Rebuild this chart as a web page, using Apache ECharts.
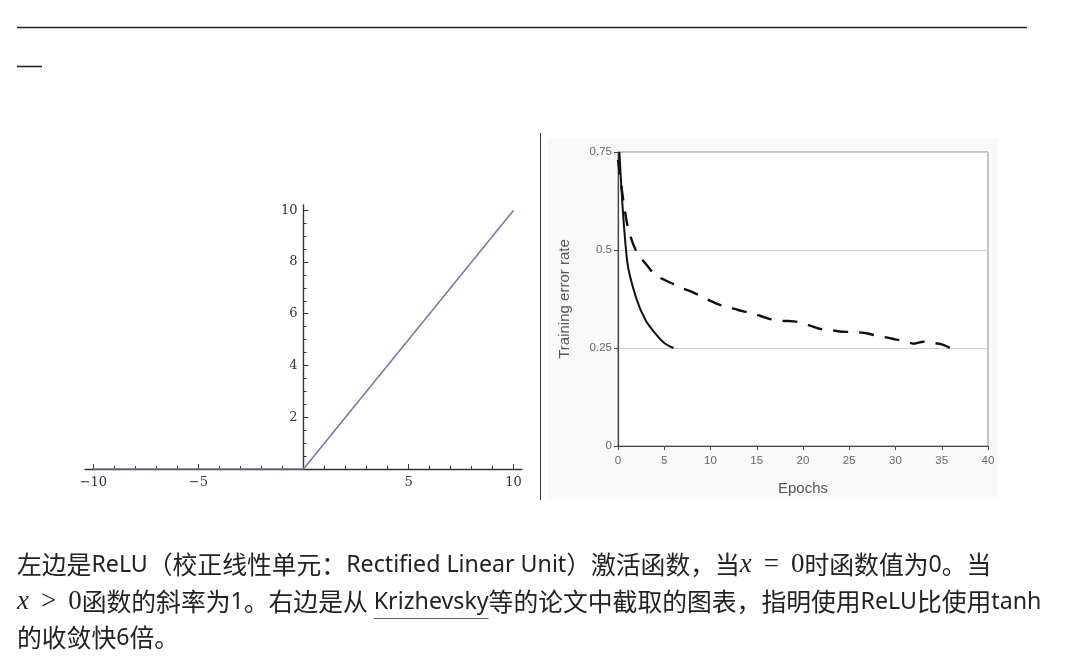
<!DOCTYPE html>
<html><head><meta charset="utf-8">
<script src="https://cdn.jsdelivr.net/npm/echarts@6/dist/echarts.min.js"></script>
<style>html,body{margin:0;padding:0;background:#fff}#c{width:1071px;height:667px}</style>
</head><body><div id="c"></div>
<script>
// ---- Left chart: ReLU ----
const reluX = [-10, 0, 10];
const reluY = [0, 0, 10];
const reluXMajor = [-10, -5, 5, 10];
const reluYMajor = [2, 4, 6, 8, 10];

// ---- Right chart: training error vs epochs ----
const epochsRelu = [0.15, 1, 2, 3, 4, 5, 6];
const errRelu = [0.75, 0.47, 0.375, 0.32, 0.288, 0.263, 0.25];
const epochsTanh = [0, 1, 2, 3, 4, 5, 6, 7, 8, 9, 10, 11, 12, 13, 14, 15, 16, 17, 18, 19, 20, 21, 22, 23, 24, 25, 26, 27, 28, 29, 30, 31, 32, 33, 34, 35, 36];
const errTanh = [0.73, 0.565, 0.495, 0.465, 0.437, 0.424, 0.413, 0.402, 0.393, 0.382, 0.37, 0.36, 0.354, 0.347, 0.341, 0.335, 0.327, 0.321, 0.319, 0.318, 0.313, 0.305, 0.298, 0.296, 0.292, 0.291, 0.29, 0.287, 0.281, 0.277, 0.272, 0.267, 0.261, 0.266, 0.263, 0.259, 0.249];

// ---- Paragraph text (segments: [text, kind]) ----
const line1 = [['左边是', 'c'], ['ReLU', 'l'], ['（校正线性单元：', 'c'], ['Rectified Linear Unit', 'l'], ['）激活函数，当', 'c'],
  ['x', 'mi'], ['=', 'mo'], ['0', 'mn'], ['时函数值为', 'c'], ['0', 'l'], ['。当', 'c']];
const line2 = [['x', 'mi'], ['>', 'mo'], ['0', 'mn'], ['函数的斜率为', 'c'], ['1', 'l'], ['。右边是从', 'c'], [' ', 'l'],
  ['Krizhevsky', 'u'], ['等的论文中截取的图表，指明使用', 'c'], ['ReLU', 'l'], ['比使用', 'c'], ['tanh', 'l']];
const line3 = [['的收敛快', 'c'], ['6', 'l'], ['倍。', 'c']];

const minorX = [];
for (let v = -10; v <= 10; v++) if (v !== 0) minorX.push(v);
const minorY = [];
for (let v = 0.5; v <= 10; v += 0.5) minorY.push(v);

const serif = 'DejaVu Serif';
const fonts = {
  c: { family: '"Noto Sans CJK SC"', size: 24.8, style: 'normal' },
  l: { family: '"Noto Sans"', size: 23.2, style: 'normal' },
  u: { family: '"Noto Sans"', size: 23.2, style: 'normal' },
  mi: { family: '"Liberation Serif"', size: 27, style: 'italic' },
  mo: { family: '"Liberation Serif"', size: 27, style: 'normal', pad: 12 },
  mn: { family: '"Liberation Serif"', size: 27, style: 'normal' }
};
const ctx = document.createElement('canvas').getContext('2d');
const textGraphics = [];
function layoutLine(segs, x0, y, key) {
  let x = x0;
  segs.forEach((s, i) => {
    const f = fonts[s[1]];
    ctx.font = f.style + ' ' + f.size + 'px ' + f.family;
    const w = ctx.measureText(s[0]).width;
    const pad = f.pad || 0;
    x += pad;
    textGraphics.push({ type: 'text', id: key + i, x: x, y: y,
      style: { text: s[0], fontFamily: f.family, fontSize: f.size, fontStyle: f.style, fill: '#222', verticalAlign: 'middle' } });
    if (s[1] === 'u') {
      textGraphics.push({ type: 'line', id: key + i + 'u', shape: { x1: x, y1: y + 16.5, x2: x + w, y2: y + 16.5 }, style: { stroke: '#666', lineWidth: 1 } });
    }
    x += w + pad;
  });
}
layoutLine(line1, 17, 565, 'a');
layoutLine(line2, 17, 602, 'b');
layoutLine(line3, 17, 638, 'd');

const chart = echarts.init(document.getElementById('c'), null, { renderer: 'canvas' });
const yOff = -(437 * 10.4 / 20.8);
chart.setOption({
  animation: false,
  backgroundColor: '#fff',
  grid: [
    { left: 85, right: 549, top: 205, bottom: 198 },
    { left: 618, right: 83, top: 152, bottom: 221, show: true, borderColor: '#8a8a8a', borderWidth: 1, backgroundColor: '#fff' }
  ],
  xAxis: [
    { type: 'value', gridIndex: 0, min: -10.4, max: 10.4, splitLine: { show: false },
      axisLine: { onZero: false, lineStyle: { color: '#333', width: 1.4 } },
      axisTick: { inside: true, length: 5, customValues: reluXMajor, lineStyle: { color: '#333' } },
      axisLabel: { customValues: reluXMajor, margin: 7, fontFamily: serif, fontSize: 13, color: '#333',
        formatter: v => (v < 0 ? '\u2212' + Math.abs(v) : '' + v) } },
    { type: 'value', gridIndex: 0, min: -10.4, max: 10.4, position: 'bottom', splitLine: { show: false },
      axisLine: { show: false, onZero: false },
      axisTick: { inside: true, length: 3, customValues: minorX, lineStyle: { color: '#333' } },
      axisLabel: { show: false } },
    { type: 'value', gridIndex: 1, min: 0, max: 40, interval: 5, splitLine: { show: false },
      axisLine: { onZero: false, lineStyle: { color: '#444', width: 1.2 } },
      axisTick: { length: 4, lineStyle: { color: '#444' } },
      axisLabel: { margin: 9, fontFamily: 'Liberation Sans', fontSize: 11.5, color: '#666' },
      name: 'Epochs', nameLocation: 'middle', nameGap: 35,
      nameTextStyle: { fontFamily: 'Liberation Sans', fontSize: 15, color: '#555' } }
  ],
  yAxis: [
    { type: 'value', gridIndex: 0, min: 0, max: 10.2, position: 'left', offset: yOff, splitLine: { show: false },
      axisLine: { onZero: false, lineStyle: { color: '#333', width: 1.4 } },
      axisTick: { inside: true, length: 5, customValues: reluYMajor, lineStyle: { color: '#333' } },
      axisLabel: { customValues: reluYMajor, margin: 6, fontFamily: serif, fontSize: 13, color: '#333' } },
    { type: 'value', gridIndex: 0, min: 0, max: 10.2, position: 'left', offset: yOff, splitLine: { show: false },
      axisLine: { show: false, onZero: false },
      axisTick: { inside: true, length: 3, customValues: minorY, lineStyle: { color: '#333' } },
      axisLabel: { show: false } },
    { type: 'value', gridIndex: 1, min: 0, max: 0.75, interval: 0.25,
      splitLine: { show: true, lineStyle: { color: '#cfcfcf', width: 1.2 } },
      axisLine: { onZero: false, lineStyle: { color: '#444', width: 1.2 } },
      axisTick: { length: 4, lineStyle: { color: '#444' } },
      axisLabel: { margin: 6, fontFamily: 'Liberation Sans', fontSize: 11.5, color: '#666' },
      name: 'Training error rate', nameLocation: 'middle', nameGap: 46,
      nameTextStyle: { fontFamily: 'Liberation Sans', fontSize: 15, color: '#555' } }
  ],
  series: [
    { type: 'line', xAxisIndex: 0, yAxisIndex: 0, showSymbol: false, silent: true,
      data: reluX.map((x, i) => [x, reluY[i]]),
      lineStyle: { color: '#7a7ab2', width: 1.6 } },
    { type: 'line', xAxisIndex: 2, yAxisIndex: 2, showSymbol: false, silent: true, smooth: 0.3,
      data: epochsRelu.map((x, i) => [x, errRelu[i]]),
      lineStyle: { color: '#111', width: 2 } },
    { type: 'line', xAxisIndex: 2, yAxisIndex: 2, showSymbol: false, silent: true, smooth: 0.3,
      data: epochsTanh.map((x, i) => [x, errTanh[i]]),
      lineStyle: { color: '#111', width: 2.4, type: [15, 11] } }
  ],
  graphic: [
    { type: 'rect', id: 'bg', z: -10, shape: { x: 548, y: 138, width: 450, height: 360 }, style: { fill: '#f9f9f9' } },
    { type: 'line', id: 'top1', shape: { x1: 17, y1: 27.5, x2: 1027, y2: 27.5 }, style: { stroke: '#222', lineWidth: 1.6 } },
    { type: 'line', id: 'top2', shape: { x1: 17, y1: 66.5, x2: 42, y2: 66.5 }, style: { stroke: '#222', lineWidth: 1.6 } },
    { type: 'line', id: 'sep', shape: { x1: 540.5, y1: 133, x2: 540.5, y2: 500 }, style: { stroke: '#333', lineWidth: 1 } }
  ].concat(textGraphics)
});
</script></body></html>
